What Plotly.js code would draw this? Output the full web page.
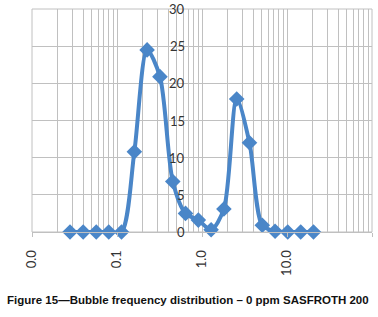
<!DOCTYPE html>
<html><head><meta charset="utf-8">
<script src="https://cdn.plot.ly/plotly-3.0.1.min.js"></script>
<style>html,body{margin:0;padding:0;background:#fff;}#chart{width:378px;height:317px;}</style>
</head><body><div id="chart"></div>
<script>
// Bubble size classes (log axis) and frequency (%)
const bubbleSize = [0.028, 0.040, 0.057, 0.080, 0.113, 0.160, 0.226, 0.320, 0.453, 0.640,
                    0.905, 1.28, 1.81, 2.56, 3.62, 5.12, 7.24, 10.2, 14.5, 20.5];
const frequency  = [0, 0, 0, 0, 0, 10.8, 24.5, 20.9, 6.8, 2.5,
                    1.6, 0.3, 3.1, 17.9, 12.0, 0.9, 0.1, 0, 0, 0];
const yTicks = [0, 5, 10, 15, 20, 25, 30];
const captionText = "Figure 15\u2014Bubble frequency distribution \u2013 0 ppm SASFROTH 200";

const gridCol = '#c0c0c0';
const trace = {
  x: bubbleSize, y: frequency, type: 'scatter', mode: 'lines+markers',
  line: {color: '#4a86c8', width: 4, shape: 'spline', smoothing: 0.8},
  marker: {symbol: 'diamond', size: 12, color: '#4a86c8'},
  cliponaxis: false, showlegend: false
};
// y tick labels placed beside the vertical axis that crosses at x = 1.0
const yLabelAnn = yTicks.map(v => ({
  text: String(v), xref: 'paper', yref: 'y', x: 0.457, y: v,
  xanchor: 'right', yanchor: 'middle', showarrow: false,
  font: {family: 'Lato, "Liberation Sans", sans-serif', size: 13, color: '#333'}
}));
const layout = {
  width: 378, height: 317,
  margin: {l: 31.5, r: 5.5, t: 8.5, b: 85.3},
  paper_bgcolor: '#fff', plot_bgcolor: '#fff',
  font: {family: 'Lato, "Liberation Sans", sans-serif', size: 13, color: '#333'},
  xaxis: {
    type: 'log', range: [-2, 2], dtick: 1, tickformat: '.1f', tickangle: -90,
    showgrid: true, gridcolor: gridCol, gridwidth: 1,
    minor: {dtick: 'D1', showgrid: true, gridcolor: gridCol, gridwidth: 1},
    ticks: 'outside', ticklen: 4, tickcolor: gridCol, ticklabelstandoff: 8,
    showline: true, linecolor: gridCol, mirror: false, zeroline: false,
    tickfont: {size: 13, color: '#333'}, fixedrange: true
  },
  yaxis: {
    range: [0, 30], tickvals: yTicks, showticklabels: false,
    showgrid: true, gridcolor: gridCol, gridwidth: 1,
    showline: false, zeroline: false, ticks: '', fixedrange: true
  },
  shapes: [
    {type: 'rect', xref: 'paper', yref: 'paper', x0: 0, x1: 1, y0: 0, y1: 1,
     line: {color: gridCol, width: 1}, fillcolor: 'rgba(0,0,0,0)', layer: 'below'}
  ],
  annotations: yLabelAnn.concat([
    {text: captionText, xref: 'paper', yref: 'paper', x: -0.08, y: -0.306,
     xanchor: 'left', yanchor: 'middle', showarrow: false,
     font: {family: '"Liberation Sans", Arial, sans-serif', size: 11.5, color: '#111', weight: 'bold'}}
  ])
};
Plotly.newPlot('chart', [trace], layout, {displayModeBar: false, staticPlot: true});
</script></body></html>
